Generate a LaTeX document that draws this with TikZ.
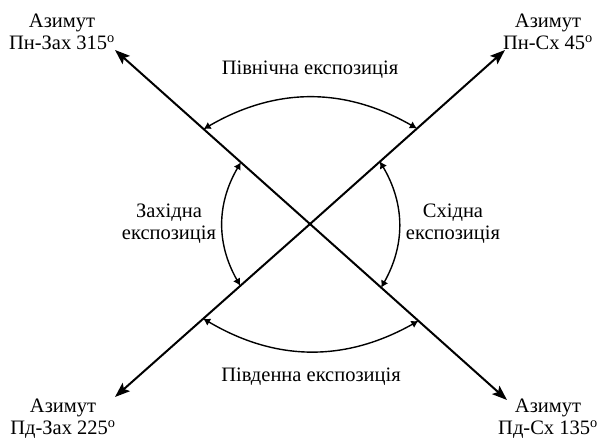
\documentclass[tikz,border=0pt]{standalone}
\usepackage{fontspec}
\setmainfont{Liberation Serif}
\usetikzlibrary{arrows.meta}
\newcommand{\degsym}{\textsuperscript{o}}
\tikzset{
  axis/.style={line width=2pt, -{Stealth[length=15pt,width=11pt,inset=3pt]}},
  exparc/.style={line width=1.4pt, {Latex[length=7pt,width=8pt]}-{Latex[length=7pt,width=8pt]}},
  lbl/.style={align=center, inner sep=0pt, font=\fontsize{20.5pt}{22pt}\selectfont}
}
\begin{document}
\begin{tikzpicture}[x=1pt,y=1pt]
\useasboundingbox (0,0) rectangle (603,439);
\coordinate (c) at (310,215);
\coordinate (nw) at (115,389);
\coordinate (se) at (507,39);
\coordinate (ne) at (505,389);
\coordinate (sw) at (115,42);
% arrows from centre
\path (nw) -- (se) coordinate[pos=0.226] (nwo) coordinate[pos=0.321] (nwi)
                   coordinate[pos=0.679] (sei) coordinate[pos=0.774] (seo);
\path (ne) -- (sw) coordinate[pos=0.226] (neo) coordinate[pos=0.321] (nei)
                   coordinate[pos=0.679] (swi) coordinate[pos=0.774] (swo);
\draw[axis] (c) -- (nw);
\draw[axis] (c) -- (se);
\draw[axis] (c) -- (ne);
\draw[axis] (c) -- (sw);
% exposition arcs
\draw[exparc] (nwo) to[bend left=30] (neo);
\draw[exparc] (swo) to[bend right=30] (seo);
\draw[exparc] (nwi) to[bend right=30] (swi);
\draw[exparc] (nei) to[bend left=30] (sei);
% labels
\node[lbl] (lnw) at (62,407) {Азимут\\Пн-Зах 315\degsym};
\node[lbl] (lne) at (548,407) {Азимут\\Пн-Сх 45\degsym};
\node[lbl] (lsw) at (63,20) {Азимут\\Пд-Зах 225\degsym};
\node[lbl] (lse) at (548,20) {Азимут\\Пд-Сх 135\degsym};
\node[lbl] (ln) at (310,369) {Північна експозиція};
\node[lbl] (ls) at (311,62) {Південна експозиція};
\node[lbl] (lw) at (169,215) {Західна\\експозиція};
\node[lbl] (le) at (453,215) {Східна\\експозиція};
\end{tikzpicture}
\end{document}
